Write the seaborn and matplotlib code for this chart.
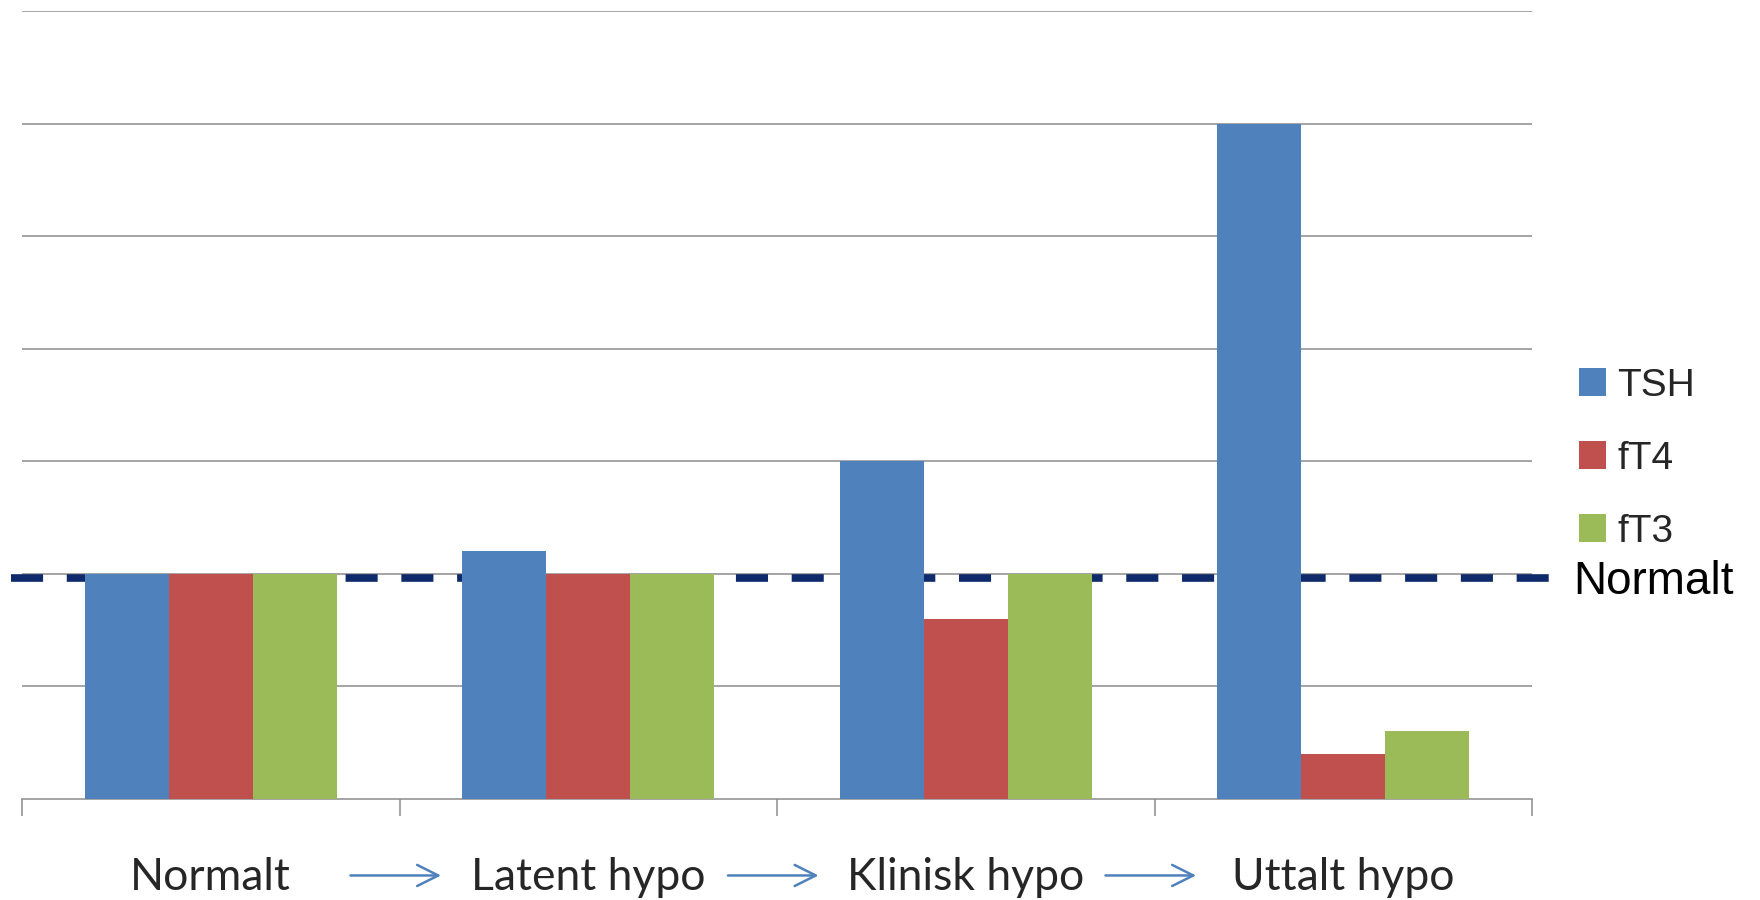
import matplotlib.pyplot as plt
import matplotlib.transforms as mtransforms
import pandas as pd
import seaborn as sns

STAGES = ["Normalt", "Latent hypo", "Klinisk hypo", "Uttalt hypo"]
HORMONES = ["TSH", "fT4", "fT3"]
TSH = [2.0, 2.2, 3.0, 6.0]
FT4 = [2.0, 2.0, 1.6, 0.4]
FT3 = [2.0, 2.0, 2.0, 0.6]
NORMAL_LEVEL = 1.965
COLORS = ["#4F81BD", "#C0504D", "#9BBB59"]


def build_frame():
    rows = []
    for name, values in zip(HORMONES, [TSH, FT4, FT3]):
        for stage, v in zip(STAGES, values):
            rows.append({"stage": stage, "hormone": name, "value": v})
    return pd.DataFrame(rows)


def main():
    sns.set_theme(style="white")
    plt.rcParams["font.family"] = ["Liberation Sans", "DejaVu Sans"]

    df = build_frame()
    fig = plt.figure(figsize=(17.6, 9), dpi=100)
    ax = fig.add_axes([0.0125, 0.1122, 0.858, 0.8756])

    sns.barplot(data=df, x="stage", y="value", hue="hormone", order=STAGES,
                hue_order=HORMONES, palette=COLORS, width=2 / 3, saturation=1,
                linewidth=0, ax=ax, zorder=3)

    ax.set_ylim(0, 7)
    ax.set_xlim(-0.5, len(STAGES) - 0.5)
    ax.set_yticks(range(1, 8))
    ax.set_yticklabels([])
    ax.tick_params(axis="y", length=0)
    ax.yaxis.grid(True, color="#8C8C8C", linewidth=1.1, zorder=0)
    ax.set_axisbelow(True)
    for side in ["top", "right", "left"]:
        ax.spines[side].set_visible(False)
    ax.spines["bottom"].set_color("#8C8C8C")
    ax.spines["bottom"].set_linewidth(1.1)

    # category labels (major) and boundary ticks (minor)
    ax.set_xticks(range(len(STAGES)))
    ax.set_xticklabels(STAGES, fontfamily="Lato", fontsize=32)
    ax.set_xticks([i - 0.5 for i in range(len(STAGES) + 1)], minor=True)
    ax.tick_params(axis="x", which="major", bottom=True, length=0, pad=42)
    ax.tick_params(axis="x", which="minor", bottom=True, length=12, width=1.1,
                   color="#8C8C8C")
    ax.set_xlabel("")
    ax.set_ylabel("")

    # normal level dashed line, drawn behind the bars
    ax.plot([-0.53, len(STAGES) - 0.442], [NORMAL_LEVEL, NORMAL_LEVEL],
            color="#0F2A6B", linewidth=5.5, dashes=(4.2, 3.1),
            solid_capstyle="butt", dash_capstyle="butt", zorder=2.5, clip_on=False)
    ax.text(len(STAGES) - 0.392, NORMAL_LEVEL - 0.04, "Normalt", fontsize=33,
            ha="left", va="center", color="black")

    # arrows between stages
    trans = mtransforms.blended_transform_factory(ax.transData, ax.transAxes)
    for b in range(1, len(STAGES)):
        x0 = b - 0.5 - 0.13
        x1 = b - 0.5 + 0.11
        ax.annotate("", xy=(x1, -0.097), xytext=(x0, -0.097), xycoords=trans,
                    textcoords=trans, annotation_clip=False,
                    arrowprops=dict(arrowstyle="->", color="#4F81BD", lw=1.8,
                                    mutation_scale=38, shrinkA=0, shrinkB=0))

    leg = ax.legend(loc="center left", bbox_to_anchor=(1.018, 0.432), frameon=False,
                    fontsize=28, handlelength=0.7, handleheight=0.7,
                    handletextpad=0.3, labelspacing=0.95, borderpad=0)
    for h in leg.legend_handles:
        h.set_edgecolor("none")

    fig.savefig("out.png", dpi=100)


if __name__ == "__main__":
    main()
